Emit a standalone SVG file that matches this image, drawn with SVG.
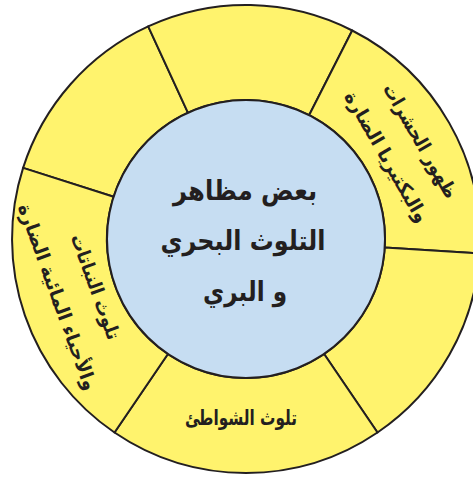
<svg xmlns="http://www.w3.org/2000/svg" width="473" height="477" viewBox="0 0 473 477">
<style>
.sec{fill:#fff36d;stroke:#231f20;stroke-width:2;stroke-linejoin:round}
.hub{fill:#c6ddf2;stroke:#231f20;stroke-width:2}
.t{font-family:"DejaVu Sans",sans-serif;font-weight:bold;fill:#231f20;text-anchor:middle}
.c{font-size:27px}
.s{font-size:19px}
.b{font-size:21px}
</style>
<rect width="473" height="477" fill="#ffffff"/>
<g id="sector-top-left">
<path class="sec" d="M 23.1 167.9 A 234 234 0 0 1 148.2 26.4 L 187.9 112.7 A 139 139 0 0 0 113.6 196.7 Z"/>
</g>
<g id="sector-top">
<path class="sec" d="M 148.2 26.4 A 234 234 0 0 1 352.2 30.5 L 309.1 115.2 A 139 139 0 0 0 187.9 112.7 Z"/>
</g>
<g id="sector-insects">
<path class="sec" d="M 352.2 30.5 A 234 234 0 0 1 479.6 253.3 L 384.7 247.5 A 139 139 0 0 0 309.1 115.2 Z"/>
<text class="t s" transform="translate(420,141) rotate(60)" x="0" y="6" textLength="129" lengthAdjust="spacingAndGlyphs">ظهور الحشرات</text>
<text class="t s" transform="translate(386,157) rotate(60)" x="0" y="6" textLength="148" lengthAdjust="spacingAndGlyphs">والبكتيريا الضارة</text>
</g>
<g id="sector-right-bottom">
<path class="sec" d="M 479.6 253.3 A 234 234 0 0 1 377.5 432.5 L 324.1 354.0 A 139 139 0 0 0 384.7 247.5 Z"/>
</g>
<g id="sector-beaches">
<path class="sec" d="M 377.5 432.5 A 234 234 0 0 1 114.5 432.5 L 167.9 354.0 A 139 139 0 0 0 324.1 354.0 Z"/>
<text class="t b" x="241" y="425" textLength="112" lengthAdjust="spacingAndGlyphs">تلوث الشواطئ</text>
</g>
<g id="sector-plants">
<path class="sec" d="M 114.5 432.5 A 234 234 0 0 1 23.1 167.9 L 113.6 196.7 A 139 139 0 0 0 167.9 354.0 Z"/>
<text class="t s" transform="translate(95,287) rotate(70)" x="0" y="6" textLength="111" lengthAdjust="spacingAndGlyphs">تلوث النباتات</text>
<text class="t s" transform="translate(57,297) rotate(70)" x="0" y="6" textLength="197" lengthAdjust="spacingAndGlyphs">والأحياء المائية الضارة</text>
</g>
<g id="center">
<circle class="hub" cx="246" cy="239" r="139"/>
<text class="t c" x="245" y="200" textLength="144" lengthAdjust="spacingAndGlyphs">بعض مظاهر</text>
<text class="t c" x="243" y="250" textLength="165" lengthAdjust="spacingAndGlyphs">التلوث البحري</text>
<text class="t c" x="245" y="301" textLength="84" lengthAdjust="spacingAndGlyphs">و البري</text>
</g>
<g id="connectors"></g>
</svg>
